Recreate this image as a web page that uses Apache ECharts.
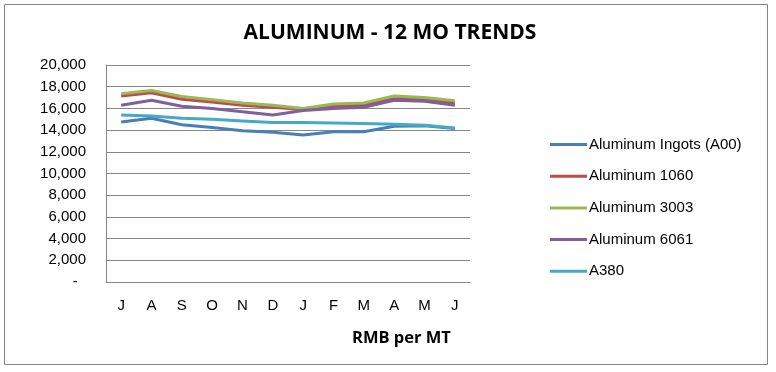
<!DOCTYPE html>
<html><head><meta charset="utf-8">
<script src="https://cdn.jsdelivr.net/npm/echarts@6/dist/echarts.min.js"></script>
<style>html,body{margin:0;padding:0;background:#fff}#c{width:776px;height:372px}</style>
</head><body><div id="c"></div>
<script>
const months = ['J','A','S','O','N','D','J','F','M','A','M','J'];
const ingots = [14750, 15100, 14500, 14250, 13950, 13800, 13550, 13850, 13850, 14350, 14400, 14150];
const al1060 = [17150, 17450, 16850, 16600, 16300, 16100, 15900, 16200, 16300, 16950, 16800, 16500];
const al3003 = [17350, 17650, 17100, 16800, 16500, 16300, 16000, 16400, 16500, 17150, 17000, 16700];
const al6061 = [16300, 16750, 16200, 16000, 15700, 15400, 15800, 16000, 16100, 16750, 16650, 16300];
const a380 = [15400, 15300, 15100, 15000, 14850, 14700, 14700, 14650, 14600, 14550, 14450, 14200];
const seriesNames = ['Aluminum Ingots (A00)', 'Aluminum 1060', 'Aluminum 3003', 'Aluminum 6061', 'A380'];
const seriesData = [ingots, al1060, al3003, al6061, a380];
const colors = ['#4A7EBB', '#BE4B48', '#98B954', '#7D60A0', '#46AAC5'];
const yTicks = {min: 0, max: 20000, interval: 2000};

const chart = echarts.init(document.getElementById('c'), null, {renderer: 'canvas'});
const font = 'Liberation Sans';
chart.setOption({
  animation: false,
  color: colors,
  title: {
    text: 'ALUMINUM - 12 MO TRENDS',
    left: 385, top: 18, textAlign: 'center',
    textStyle: {fontFamily: 'Open Sans', fontWeight: 'bold', fontSize: 21, color: '#000'}
  },
  grid: {left: 106, right: 306, top: 65, bottom: 90},
  legend: {
    orient: 'vertical', left: 545, top: 131,
    icon: 'rect', itemWidth: 37, itemHeight: 3, itemGap: 14.7,
    textStyle: {fontFamily: font, fontSize: 15, color: '#000', lineHeight: 17, padding: [0,0,0,-3]},
    data: seriesNames
  },
  xAxis: {
    type: 'category', data: months, boundaryGap: true,
    axisLine: {lineStyle: {color: '#868686', width: 1}},
    axisTick: {show: false},
    axisLabel: {color: '#000', fontFamily: font, fontSize: 15, margin: 16}
  },
  yAxis: {
    type: 'value', min: yTicks.min, max: yTicks.max, interval: yTicks.interval,
    axisLine: {show: true, lineStyle: {color: '#868686', width: 1}},
    axisTick: {show: false},
    splitLine: {lineStyle: {color: '#868686', width: 1}},
    axisLabel: {color: '#000', fontFamily: font, fontSize: 15, margin: 20,
      formatter: v => v === 0 ? '-  ' : v.toLocaleString('en-US')}
  },
  graphic: [
    {type: 'rect', shape: {x: 4.5, y: 4.5, width: 763, height: 360}, style: {fill: 'none', stroke: '#868686', lineWidth: 1}, silent: true, z: -1},
    {type: 'text', left: 352, top: 330, style: {text: 'RMB per MT', font: 'bold 16.5px "Open Sans"', fill: '#000'}}
  ],
  series: seriesNames.map((n, i) => ({
    name: n, type: 'line', data: seriesData[i], symbol: 'none', showSymbol: false,
    lineStyle: {width: 3, color: colors[i]}, itemStyle: {color: colors[i]}
  }))
});
</script></body></html>
